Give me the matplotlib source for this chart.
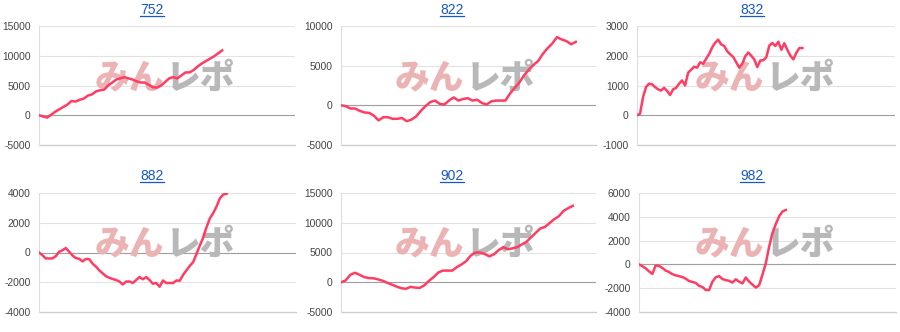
import matplotlib
matplotlib.use('Agg')
import matplotlib.pyplot as plt

plt.rcParams['font.family'] = ['Liberation Sans', 'DejaVu Sans']

# ---------------- data ----------------
titles = ['752', '822', '832', '882', '902', '982']

s752 = [0, -200, -400, 100, 600, 1000, 1400, 1800, 2400, 2300, 2600, 2800, 3300, 3500,
        4000, 4200, 4300, 5000, 5500, 6000, 6200, 6400, 6200, 6000, 5700, 5500, 5500,
        5100, 4700, 4650, 5000, 5600, 6200, 6400, 6200, 6700, 7200, 7200, 7600, 8200,
        8700, 9100, 9500, 9900, 10400, 10900]

s822 = [0, -100, -400, -400, -700, -900, -950, -1300, -1900, -1500, -1500, -1700, -1700,
        -1600, -2000, -1800, -1400, -700, -100, 400, 600, 200, 100, 600, 1000, 600, 800,
        900, 600, 700, 300, 100, 500, 600, 600, 600, 1500, 2200, 2900, 3800, 4500, 5100,
        5600, 6500, 7200, 7800, 8600, 8300, 8100, 7700, 8000]

s832 = [0, 50, 600, 950, 1060, 1040, 950, 870, 830, 920, 820, 680, 870, 920, 1060, 1170,
        1000, 1430, 1530, 1630, 1600, 1780, 1730, 1900, 2060, 2280, 2440, 2540, 2380,
        2330, 2150, 2050, 1960, 1780, 1600, 1730, 1980, 2110, 2000, 1880, 1620, 1840,
        1850, 1950, 2340, 2430, 2330, 2470, 2200, 2420, 2200, 2000, 1880, 2100, 2260, 2260]

s882 = [0, -180, -400, -400, -400, -250, 50, 150, 300, 50, -200, -380, -420, -600, -430,
        -450, -750, -950, -1200, -1400, -1600, -1700, -1780, -1850, -1950, -2150, -1950,
        -1950, -2050, -1850, -1650, -1800, -1650, -1850, -2100, -2050, -2300, -1880, -2050,
        -2050, -2050, -1880, -1900, -1500, -1200, -900, -650, -100, 470, 1000, 1700, 2300,
        2650, 3100, 3650, 3900, 3950]

s902 = [0, 300, 1250, 1600, 1250, 880, 700, 670, 480, 250, -100, -400, -730, -1000, -1100,
        -780, -900, -950, -500, 250, 880, 1650, 1960, 1960, 1960, 2550, 3000, 3550, 4500,
        5000, 5000, 4750, 4350, 4700, 5400, 5900, 5550, 5700, 5900, 6350, 6800, 7550, 8300,
        9050, 9300, 9950, 10600, 11100, 12000, 12450, 12850]

s982 = [0, -150, -330, -580, -800, -80, -130, -300, -520, -640, -820, -920, -990, -1060,
        -1200, -1400, -1470, -1560, -1800, -1900, -2150, -2160, -1450, -1080, -980, -1230,
        -1320, -1380, -1530, -1250, -1450, -1600, -1100, -1450, -1700, -1950, -1750, -850,
        100, 1500, 2650, 3400, 4050, 4450, 4570]

series = [s752, s822, s832, s882, s902, s982]

yticks = [
    [-5000, 0, 5000, 10000, 15000],
    [-5000, 0, 5000, 10000],
    [-1000, 0, 1000, 2000, 3000],
    [-4000, -2000, 0, 2000, 4000],
    [-5000, 0, 5000, 10000, 15000],
    [-4000, -2000, 0, 2000, 4000, 6000],
]

# ---------------- layout (pixels) ----------------
W, H = 900, 332
# (panel x0, panel y0, axes left, axes right, axes top, axes bottom, x max)
layout = [
    (0,   0,   39,  295, 26,  145, 62.9),
    (300, 0,   341, 596, 26,  145, 54.3),
    (600, 0,   637, 895, 26,  145, 85.8),
    (0,   166, 39,  296, 193, 312, 76.7),
    (300, 166, 341, 596, 193, 312, 55.0),
    (600, 166, 639, 896, 193, 312, 77.0),
]

LINE = '#ff3d62'
TITLE = '#1558c9'

fig = plt.figure(figsize=(W / 100, H / 100), dpi=100)
fig.patch.set_facecolor('white')

title_texts = []
for i, (px, py, l, r, t, b, xmax) in enumerate(layout):
    ax = fig.add_axes([l / W, (H - b) / H, (r - l) / W, (b - t) / H])
    ys = series[i]
    ax.plot(range(len(ys)), ys, color=LINE, lw=1.8, zorder=3, solid_joinstyle='round')
    ax.set_xlim(0, xmax)
    tk = yticks[i]
    ax.set_ylim(tk[0], tk[-1])
    ax.set_yticks(tk)
    ax.set_yticklabels([str(v) for v in tk])
    ax.set_xticks([])
    ax.tick_params(axis='y', length=0, pad=6, labelsize=7.4, labelcolor='#444444')
    for s in ['top', 'right', 'bottom']:
        ax.spines[s].set_visible(False)
    ax.spines['left'].set_color('#dddddd')
    ax.spines['left'].set_linewidth(0.8)
    ax.yaxis.grid(True, color='#e2e2e2', lw=0.8)
    ax.set_axisbelow(True)
    ax.axhline(0, color='#a0a0a0', lw=0.8, zorder=1.6)
    ax.axhline(tk[0], color='#cccccc', lw=0.9, zorder=1.6, clip_on=False)

    # watermark
    ax.text((px + 129) / W, (H - (py + 78)) / H, 'みん', transform=fig.transFigure,
            ha='center', va='center', fontsize=25, fontweight='black',
            family=['Noto Sans CJK JP', 'DejaVu Sans'], color='#ebb3b3', zorder=2)
    ax.text((px + 200) / W, (H - (py + 78)) / H, 'レポ', transform=fig.transFigure,
            ha='center', va='center', fontsize=25, fontweight='black',
            family=['Noto Sans CJK JP', 'DejaVu Sans'], color='#b8b8b8', zorder=2)

    # title
    tt = fig.text((px + 152) / W, (H - (py + 10)) / H, titles[i], ha='center',
                  va='center', fontsize=10, color=TITLE)
    title_texts.append(tt)

fig.canvas.draw()
renderer = fig.canvas.get_renderer()
inv = fig.transFigure.inverted()
for tt in title_texts:
    bb = tt.get_window_extent(renderer)
    (x0, y0) = inv.transform((bb.x0, bb.y0 + 1))
    (x1, _) = inv.transform((bb.x1, bb.y0 + 1))
    fig.add_artist(plt.Line2D([x0, x1], [y0, y0], transform=fig.transFigure,
                              color=TITLE, lw=0.9))

fig.savefig('out.png', dpi=100, facecolor='white')
